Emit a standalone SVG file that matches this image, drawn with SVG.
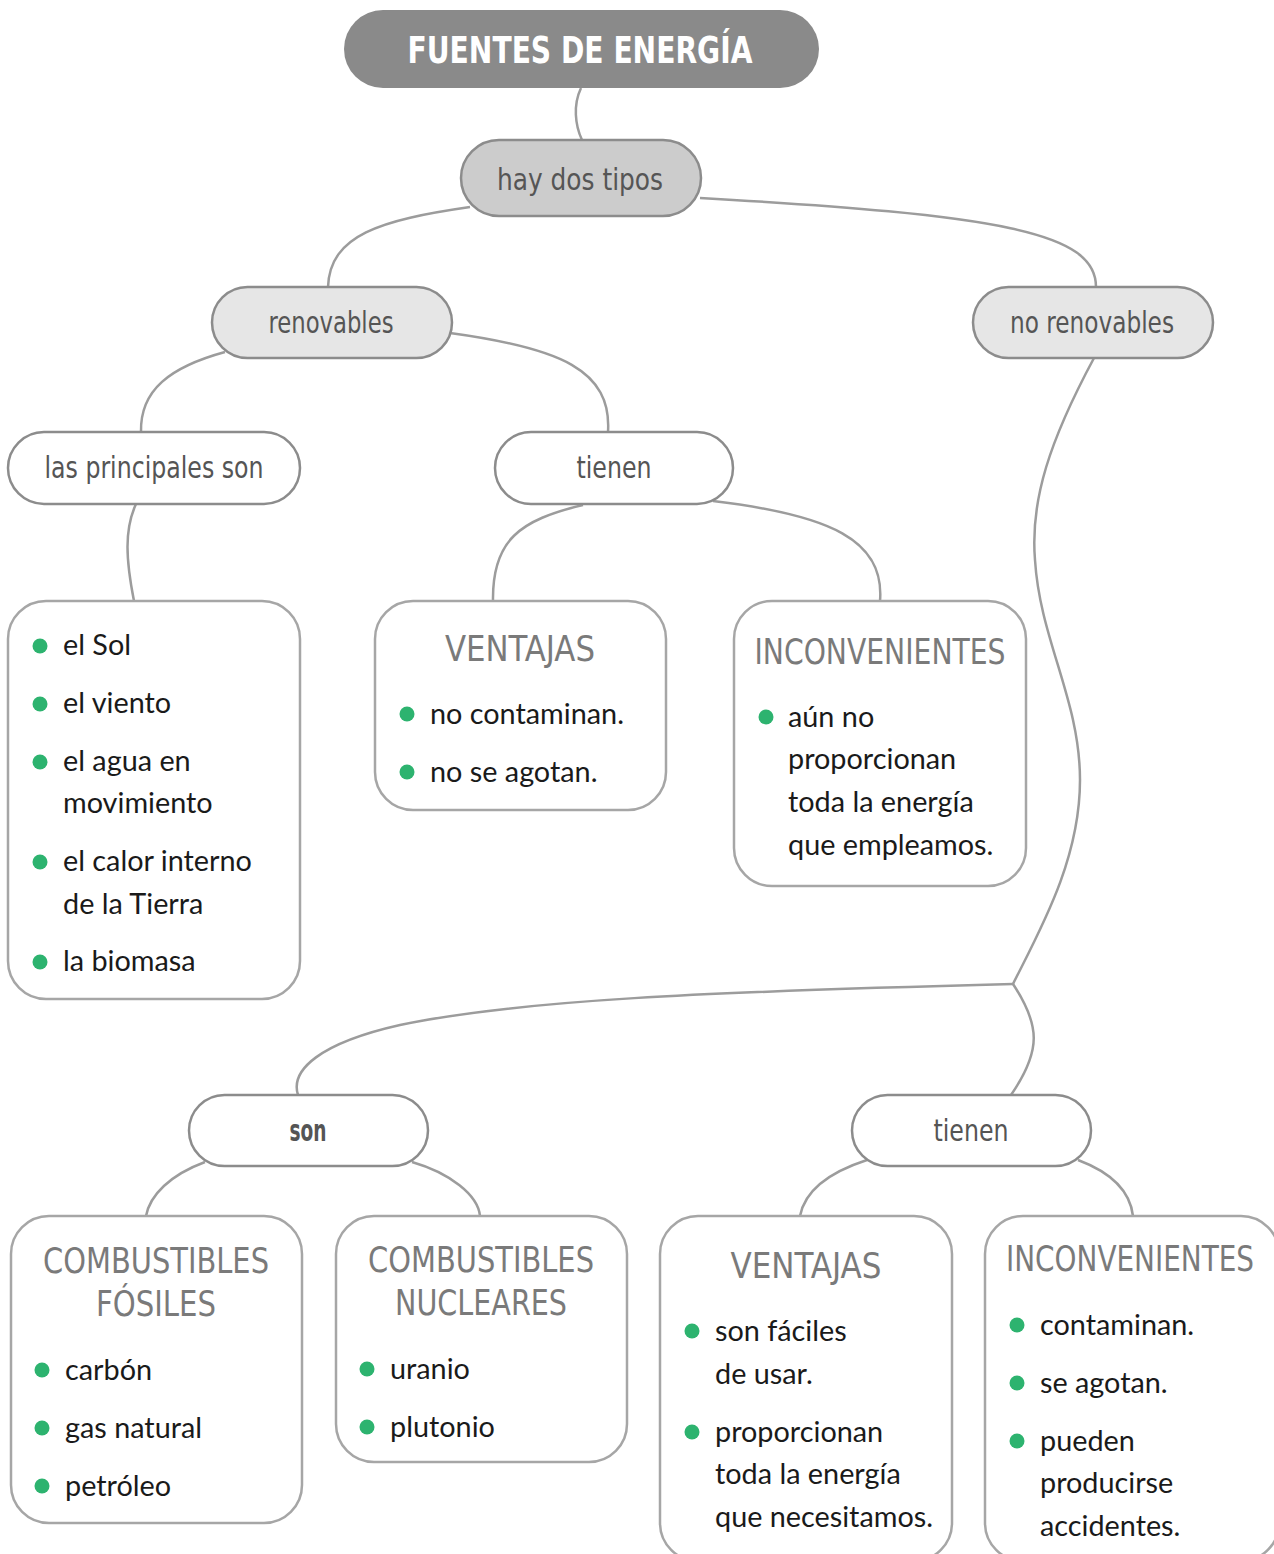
<svg xmlns="http://www.w3.org/2000/svg" width="1274" height="1554" viewBox="0 0 1274 1554">
<style>
.pill{stroke:#8c8c8c;stroke-width:2.5}
.box{fill:#fff;stroke:#a6a6a6;stroke-width:2.5}
.lbl{font-family:"DejaVu Sans Condensed","DejaVu Sans",sans-serif;font-size:30px;fill:#555;text-anchor:middle}
.cap{font-family:"DejaVu Sans Condensed","DejaVu Sans",sans-serif;font-size:36px;fill:#7a7a7a;text-anchor:middle}
.txt{font-family:Lato,"Open Sans",sans-serif;font-size:28.8px;fill:#1a1a1a}
.dot{fill:#2db36f}
.con path{fill:none;stroke:#9c9c9c;stroke-width:2.5}
</style>
<rect width="1274" height="1554" fill="#fff"/>
<g class="con" id="connectors">
<path d="M581,88 C573,105 575,125 582,140"/>
<path d="M470,207 C380,220 330,235 328,287"/>
<path d="M700,198 C1000,215 1096,232 1096,287"/>
<path d="M225,352 C170,367 140,390 141,432"/>
<path d="M450,333 C560,348 612,370 608,432"/>
<path d="M136,504 C124,530 126,560 134,601"/>
<path d="M583,505 C520,520 492,540 493,601"/>
<path d="M713,501 C830,515 885,540 880,601"/>
<path d="M1094,358 C1050,440 1030,500 1035,560 C1040,640 1080,700 1080,780 C1080,860 1040,930 1013,984"/>
<path d="M1013,984 C700,992 520,1000 400,1025 C320,1043 290,1070 298,1095"/>
<path d="M1013,984 C1040,1025 1042,1050 1011,1095"/>
<path d="M205,1162 C170,1175 150,1195 146,1216"/>
<path d="M412,1162 C450,1173 478,1195 480,1216"/>
<path d="M867,1160 C830,1172 805,1190 800,1216"/>
<path d="M1078,1160 C1110,1172 1130,1190 1133,1216"/>
</g>
<g id="title">
<rect x="344" y="10" width="475" height="78" rx="39" fill="#8a8a8a"/>
<text x="580" y="63" font-family="DejaVu Sans Condensed, DejaVu Sans, sans-serif" font-size="38" font-weight="bold" fill="#fff" text-anchor="middle" textLength="345" lengthAdjust="spacingAndGlyphs">FUENTES DE ENERGÍA</text>
</g>
<g id="hay-dos-tipos">
<rect class="pill" x="461" y="140" width="240" height="76" rx="38" fill="#cccccc"/>
<text class="lbl" x="580" y="190" font-size="32" textLength="166" lengthAdjust="spacingAndGlyphs">hay dos tipos</text>
</g>
<g id="renovables">
<rect class="pill" x="212" y="287" width="240" height="71" rx="35.5" fill="#e6e6e6"/>
<text class="lbl" x="331" y="333" textLength="125" lengthAdjust="spacingAndGlyphs">renovables</text>
</g>
<g id="no-renovables">
<rect class="pill" x="973" y="287" width="240" height="71" rx="35.5" fill="#e6e6e6"/>
<text class="lbl" x="1092" y="333" textLength="164" lengthAdjust="spacingAndGlyphs">no renovables</text>
</g>
<g id="las-principales-son">
<rect class="pill" x="8" y="432" width="292" height="72" rx="36" fill="#fff"/>
<text class="lbl" x="154" y="478" textLength="219" lengthAdjust="spacingAndGlyphs">las principales son</text>
</g>
<g id="tienen-1">
<rect class="pill" x="495" y="432" width="238" height="72" rx="36" fill="#fff"/>
<text class="lbl" x="614" y="478" textLength="75" lengthAdjust="spacingAndGlyphs">tienen</text>
</g>
<g id="lista-renovables">
<rect class="box" x="8" y="601" width="292" height="398" rx="38"/>
<circle class="dot" cx="40" cy="646" r="7.5"/>
<circle class="dot" cx="40" cy="704" r="7.5"/>
<circle class="dot" cx="40" cy="762" r="7.5"/>
<circle class="dot" cx="40" cy="862" r="7.5"/>
<circle class="dot" cx="40" cy="962" r="7.5"/>
<text class="txt" x="63" y="655">el Sol</text>
<text class="txt" x="63" y="713">el viento</text>
<text class="txt" x="63" y="771">el agua en</text>
<text class="txt" x="63" y="813">movimiento</text>
<text class="txt" x="63" y="871">el calor interno</text>
<text class="txt" x="63" y="914">de la Tierra</text>
<text class="txt" x="63" y="971">la biomasa</text>
</g>
<g id="ventajas-1">
<rect class="box" x="375" y="601" width="291" height="209" rx="38"/>
<text class="cap" x="520" y="661" textLength="150" lengthAdjust="spacingAndGlyphs">VENTAJAS</text>
<circle class="dot" cx="407" cy="714" r="7.5"/>
<circle class="dot" cx="407" cy="772" r="7.5"/>
<text class="txt" x="430" y="724">no contaminan.</text>
<text class="txt" x="430" y="782">no se agotan.</text>
</g>
<g id="inconvenientes-1">
<rect class="box" x="734" y="601" width="292" height="285" rx="38"/>
<text class="cap" x="880" y="664" textLength="251" lengthAdjust="spacingAndGlyphs">INCONVENIENTES</text>
<circle class="dot" cx="766" cy="717" r="7.5"/>
<text class="txt" x="788" y="727">aún no</text>
<text class="txt" x="788" y="769">proporcionan</text>
<text class="txt" x="788" y="812">toda la energía</text>
<text class="txt" x="788" y="855">que empleamos.</text>
</g>
<g id="son">
<rect class="pill" x="189" y="1095" width="239" height="71" rx="35.5" fill="#fff"/>
<text class="lbl" x="308" y="1141" font-size="24" font-weight="bold" textLength="37" lengthAdjust="spacingAndGlyphs">son</text>
</g>
<g id="tienen-2">
<rect class="pill" x="852" y="1095" width="239" height="71" rx="35.5" fill="#fff"/>
<text class="lbl" x="971" y="1141" textLength="75" lengthAdjust="spacingAndGlyphs">tienen</text>
</g>
<g id="fosiles">
<rect class="box" x="11" y="1216" width="291" height="307" rx="38"/>
<text class="cap" x="156" y="1273" textLength="226" lengthAdjust="spacingAndGlyphs">COMBUSTIBLES</text>
<text class="cap" x="156" y="1316" textLength="120" lengthAdjust="spacingAndGlyphs">FÓSILES</text>
<circle class="dot" cx="42" cy="1370" r="7.5"/>
<circle class="dot" cx="42" cy="1428" r="7.5"/>
<circle class="dot" cx="42" cy="1486" r="7.5"/>
<text class="txt" x="65" y="1380">carbón</text>
<text class="txt" x="65" y="1438">gas natural</text>
<text class="txt" x="65" y="1496">petróleo</text>
</g>
<g id="nucleares">
<rect class="box" x="336" y="1216" width="291" height="246" rx="38"/>
<text class="cap" x="481" y="1272" textLength="226" lengthAdjust="spacingAndGlyphs">COMBUSTIBLES</text>
<text class="cap" x="481" y="1315" textLength="172" lengthAdjust="spacingAndGlyphs">NUCLEARES</text>
<circle class="dot" cx="367" cy="1369" r="7.5"/>
<circle class="dot" cx="367" cy="1427" r="7.5"/>
<text class="txt" x="390" y="1379">uranio</text>
<text class="txt" x="390" y="1437">plutonio</text>
</g>
<g id="ventajas-2">
<rect class="box" x="660" y="1216" width="292" height="345" rx="38"/>
<text class="cap" x="806" y="1278" textLength="151" lengthAdjust="spacingAndGlyphs">VENTAJAS</text>
<circle class="dot" cx="692" cy="1331" r="7.5"/>
<circle class="dot" cx="692" cy="1432" r="7.5"/>
<text class="txt" x="715" y="1341">son fáciles</text>
<text class="txt" x="715" y="1384">de usar.</text>
<text class="txt" x="715" y="1442">proporcionan</text>
<text class="txt" x="715" y="1484">toda la energía</text>
<text class="txt" x="715" y="1527">que necesitamos.</text>
</g>
<g id="inconvenientes-2">
<rect class="box" x="985" y="1216" width="294" height="345" rx="38"/>
<text class="cap" x="1130" y="1271" font-size="34" textLength="248" lengthAdjust="spacingAndGlyphs">INCONVENIENTES</text>
<circle class="dot" cx="1017" cy="1325" r="7.5"/>
<circle class="dot" cx="1017" cy="1383" r="7.5"/>
<circle class="dot" cx="1017" cy="1441" r="7.5"/>
<text class="txt" x="1040" y="1335">contaminan.</text>
<text class="txt" x="1040" y="1393">se agotan.</text>
<text class="txt" x="1040" y="1451">pueden</text>
<text class="txt" x="1040" y="1493">producirse</text>
<text class="txt" x="1040" y="1536">accidentes.</text>
</g>
</svg>
